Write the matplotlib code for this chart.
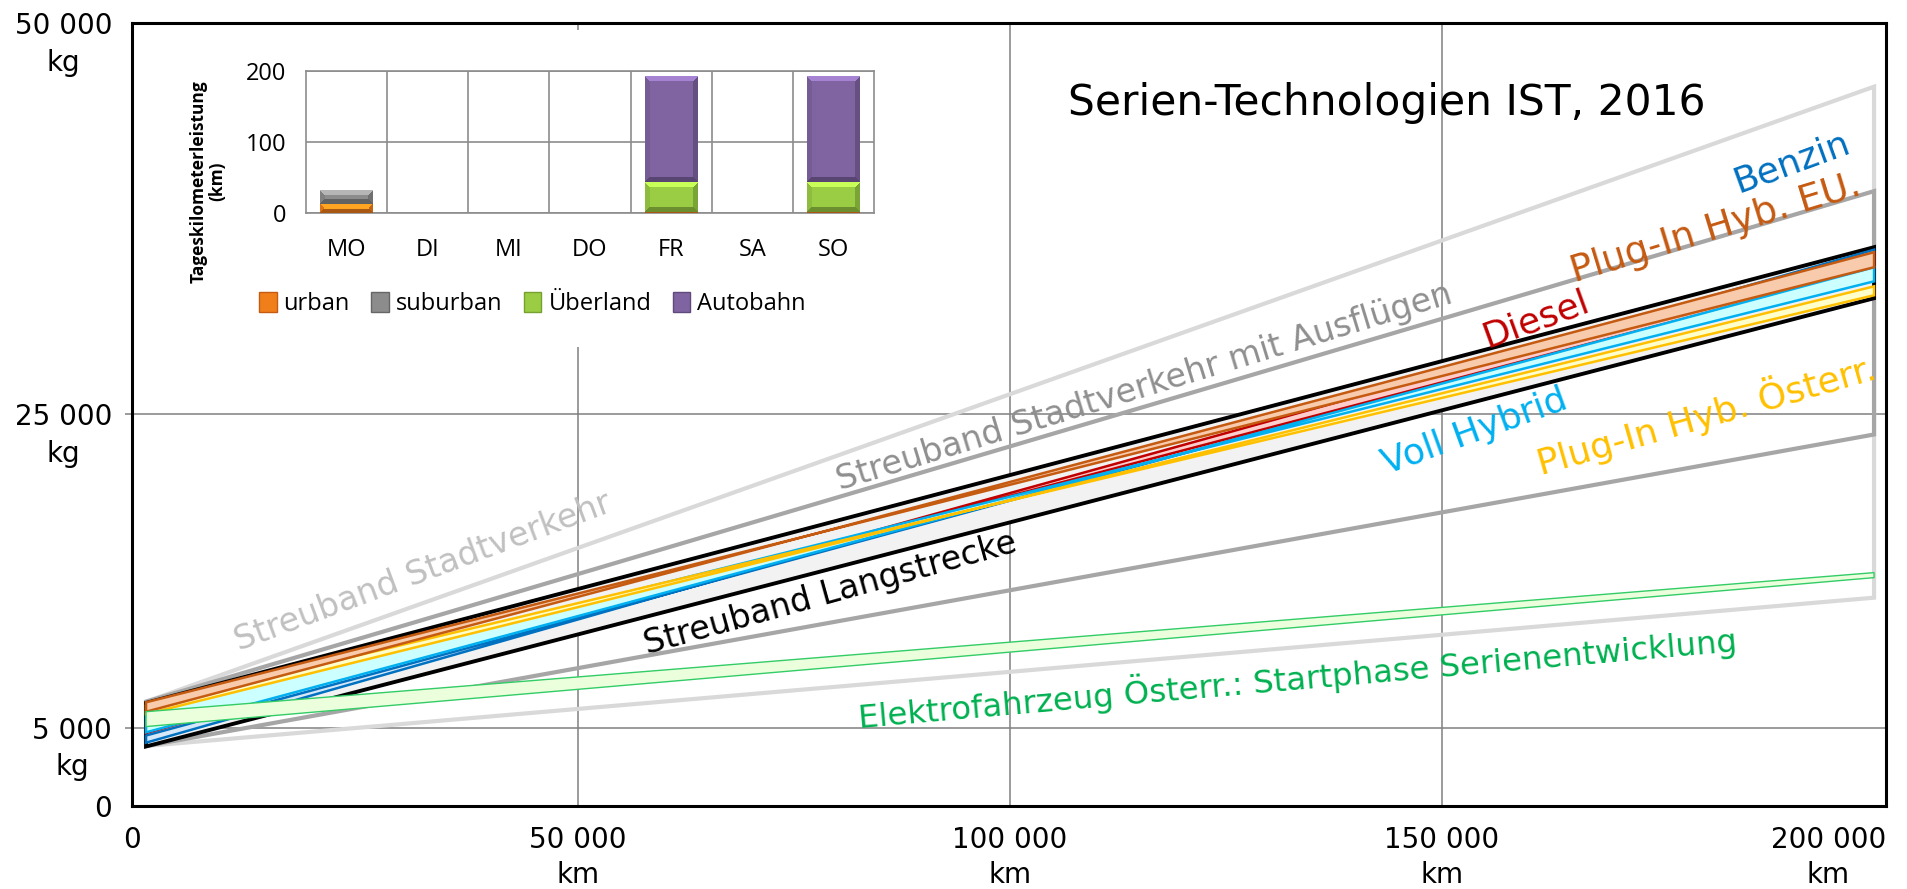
import numpy as np
import matplotlib.pyplot as plt
from matplotlib.colors import to_rgb
from matplotlib.patches import Patch
from matplotlib.transforms import blended_transform_factory

# Laufleistung in km (Anfang / Ende der Geraden)
km = [0, 200000]

# CO2-Äquivalent in kg bei km[0] und km[1], je Band zwei Grenzgeraden
stadt_a = [3830, 13300]
stadt_b = [6660, 45930]
ausfl_a = [3830, 23720]
ausfl_b = [6660, 39260]
lang_a = [3800, 32420]
lang_b = [6580, 35680]
benzin_a = [4040, 35520]
benzin_b = [4500, 34500]
diesel_a = [4660, 35300]
diesel_b = [5300, 34300]
hybrid_a = [6000, 33500]
hybrid_b = [4700, 34400]
phev_at_a = [5870, 33180]
phev_at_b = [6400, 32610]
phev_eu_a = [6620, 34400]
phev_eu_b = [6020, 35360]
elektro_a = [5070, 14580]
elektro_b = [6020, 14900]

# Wochenprofil der Tageskilometer
tage = ['MO', 'DI', 'MI', 'DO', 'FR', 'SA', 'SO']
urban = [13, 0, 0, 0, 2, 0, 2]
suburban = [19, 0, 0, 0, 0, 0, 0]
ueberland = [0, 0, 0, 0, 41, 0, 41]
autobahn = [0, 0, 0, 0, 148, 0, 148]

x_ticks = [0, 50000, 100000, 150000, 200000]
x_labels = ['0', '50 000\nkm', '100 000\nkm', '150 000\nkm', '200 000\nkm']
y_ticks = [0, 5000, 25000, 50000]
y_labels = ['0', '5 000\nkg', '25 000\nkg', '50 000\nkg']

FONT = 'DejaVu Sans'
FONT2 = 'Open Sans'


def band(ax, a, b, face, edge, lw, z):
    xs = [km[0], km[1], km[1], km[0]]
    ys = [a[0], a[1], b[1], b[0]]
    ax.fill(xs, ys, facecolor=face, edgecolor=edge, linewidth=lw,
            zorder=z, joinstyle='miter')


def bevel(ax, bars, color, px_x, px_y, b=5):
    # Balken mit Kantenschattierung überdecken
    base = np.array(to_rgb(color))
    for r in bars:
        h = r.get_height()
        if h <= 0:
            continue
        nx = max(int(r.get_width() * px_x), 2)
        ny = max(int(h * px_y), 2)
        ii, jj = np.mgrid[0:ny, 0:nx]
        d = np.stack([ii, ny - 1 - ii, jj, nx - 1 - jj])
        side = d.argmin(axis=0)
        near = d.min(axis=0) < b
        fac = np.ones((ny, nx))
        fac[near & (side == 0)] = 1.3
        fac[near & (side == 1)] = 0.7
        fac[near & (side == 2)] = 0.92
        fac[near & (side == 3)] = 0.8
        img = np.clip(base[None, None, :] * fac[:, :, None], 0, 1)
        x0, y0 = r.get_x(), r.get_y()
        ax.imshow(img, extent=(x0, x0 + r.get_width(), y0, y0 + h),
                  origin='upper', aspect='auto', interpolation='nearest',
                  zorder=4)


fig = plt.figure(figsize=(19.08, 8.89), dpi=100)
ax = fig.add_axes([0.0692, 0.0934, 0.9193, 0.8808])
ax.set_xlim(-1620, 201390)
ax.set_ylim(0, 50000)
for s in ax.spines.values():
    s.set_linewidth(2.2)
    s.set_color('black')
ax.set_xticks([50000, 100000, 150000])
ax.set_yticks([5000, 25000])
ax.tick_params(labelbottom=False, labelleft=False)
ax.tick_params(axis='x', length=0)
ax.tick_params(axis='y', length=5, color='#808080', width=1.1)
ax.grid(color='#808080', linewidth=1.1)
ax.set_axisbelow(True)

# Streubänder und Technologien
band(ax, stadt_a, stadt_b, 'none', '#d9d9d9', 3.0, 2)
band(ax, ausfl_a, ausfl_b, 'none', '#a6a6a6', 3.0, 3)
band(ax, lang_a, lang_b, '#f2f2f2', 'black', 2.8, 4)
band(ax, benzin_a, benzin_b, '#d6e8f8', '#0070c0', 1.8, 5)
band(ax, diesel_a, diesel_b, '#ffcccc', '#c00000', 1.8, 6)
band(ax, hybrid_a, hybrid_b, '#ccffff', '#00b0f0', 1.8, 7)
band(ax, phev_at_a, phev_at_b, '#ffffcc', '#ffc000', 1.8, 8)
band(ax, phev_eu_a, phev_eu_b, '#f8cbad', '#c55a11', 1.8, 9)
band(ax, elektro_a, elektro_b, '#ebffdd', '#33cc66', 1.0, 10)

# Achsenbeschriftungen
tx = blended_transform_factory(ax.transData, ax.transAxes)
for v, t in zip(x_ticks, x_labels):
    xpos, ha = v, 'center'
    if v == 0:
        xpos = ax.get_xlim()[0]
    if v == 200000:
        xpos, ha = ax.get_xlim()[1], 'right'
    ax.text(xpos, -0.026, t, transform=tx, ha=ha, va='top',
            multialignment='center', linespacing=1.3,
            family=FONT, fontsize=20)
ty = blended_transform_factory(ax.transAxes, ax.transData)
for v, t in zip(y_ticks, y_labels):
    ax.annotate(t, xy=(-0.0114, v), xycoords=ty, xytext=(0, 8),
                textcoords='offset points', ha='right', va='top',
                multialignment='center', linespacing=1.4,
                family=FONT, fontsize=20, annotation_clip=False)

ax.text(143600, 44890, 'Serien-Technologien IST, 2016', ha='center',
        va='center', family=FONT, fontsize=30.5, zorder=12)

labels = [
    (190500, 41120, 'Benzin', '#0070c0', 26, 20),
    (181700, 36850, 'Plug-In Hyb. EU.', '#c55a11', 27, 17),
    (160900, 31100, 'Diesel', '#c00000', 26, 20),
    (115500, 26760, 'Streuband Stadtverkehr mit Ausflügen', '#8f8f8f', 24, 17),
    (153800, 23880, 'Voll Hybrid', '#00b0f0', 26, 20),
    (180600, 25030, 'Plug-In Hyb. Österr.', '#ffc000', 26, 16),
    (32060, 14940, 'Streuband Stadtverkehr', '#c0c0c0', 24, 20.5),
    (79170, 13540, 'Streuband Langstrecke', 'black', 24, 15.5),
    (133300, 8170, 'Elektrofahrzeug Österr.: Startphase Serienentwicklung',
     '#00b050', 23.3, 5),
]
for x, y, t, c, fs, rot in labels:
    ax.text(x, y, t, color=c, fontsize=fs, family=FONT, rotation=rot,
            rotation_mode='anchor', ha='center', va='center', zorder=12)

# Einschub: Wochenprofil
bg = fig.add_axes([0.0865, 0.6097, 0.38, 0.3566])
bg.set_xticks([])
bg.set_yticks([])
for s in bg.spines.values():
    s.set_visible(False)
bg.set_facecolor('white')

ax2 = fig.add_axes([0.1604, 0.7604, 0.2977, 0.1597])
pos = range(len(tage))
w = 0.65
farben = ['#f07f1a', '#8c8c8c', '#9acd44', '#8064a2']
unten = [0] * len(tage)
px_x = 0.2977 * 1908 / len(tage)
px_y = 0.1597 * 889 / 200
for werte, col in zip([urban, suburban, ueberland, autobahn], farben):
    bars = ax2.bar(pos, werte, w, bottom=unten, color=col, linewidth=0,
                   zorder=3)
    bevel(ax2, bars, col, px_x, px_y)
    unten = [u + v for u, v in zip(unten, werte)]

ax2.set_xlim(-0.5, len(tage) - 0.5)
ax2.set_ylim(0, 200)
ax2.set_yticks([0, 100, 200])
ax2.set_xticks(list(pos))
ax2.set_xticklabels(tage)
ax2.set_xticks([p + 0.5 for p in pos][:-1], minor=True)
ax2.grid(axis='y', color='#8c8c8c', linewidth=1.2)
ax2.grid(axis='x', which='minor', color='#8c8c8c', linewidth=1.2)
ax2.set_axisbelow(True)
for s in ax2.spines.values():
    s.set_color('#8c8c8c')
    s.set_linewidth(1.2)
ax2.tick_params(which='both', length=0)
ax2.tick_params(axis='x', pad=18)
ax2.tick_params(axis='y', pad=14)
for lab in ax2.get_xticklabels() + ax2.get_yticklabels():
    lab.set_family(FONT2)
    lab.set_fontsize(17)

fig.text(0.109, 0.796, 'Tageskilometerleistung\n(km)', rotation=90,
         ha='center', va='center', multialignment='center',
         family=FONT2, fontweight='bold', fontsize=12.5, linespacing=1.1)

handles = [Patch(facecolor=c, edgecolor=e) for c, e in
           zip(farben, ['#c55a11', '#666666', '#76a030', '#604a7b'])]
fig.legend(handles, ['urban', 'suburban', 'Überland', 'Autobahn'],
           loc='center', bbox_to_anchor=(0.279, 0.658), ncol=4,
           frameon=False, handlelength=0.75, handleheight=0.95,
           handletextpad=0.3, columnspacing=0.9,
           prop={'family': FONT2, 'size': 17})

fig.savefig('out.png', dpi=100)
